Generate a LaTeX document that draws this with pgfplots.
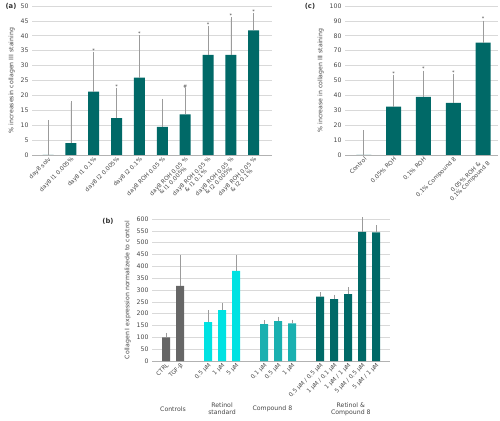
\documentclass[border=0pt]{standalone}
\usepackage{pgfplots}
\pgfplotsset{compat=1.18}
\usepackage{fontspec}
\setmainfont{DejaVu Sans}
\definecolor{tealdark}{RGB}{0,105,103}
\definecolor{cyanb}{RGB}{0,226,226}
\definecolor{cmpd}{RGB}{26,176,176}
\definecolor{grayb}{RGB}{102,102,102}
\definecolor{txtgray}{RGB}{70,70,70}
\definecolor{gridgray}{RGB}{217,217,217}
\definecolor{errgray}{RGB}{155,155,155}
\pgfplotsset{
  panel/.style={
    scale only axis, anchor=south west,
    font=\fontsize{6}{7}\selectfont,
    tick label style={font=\fontsize{6.2}{7}\selectfont, text=txtgray},
    /pgf/number format/assume math mode=true,
    ymajorgrids, grid style={gridgray, line width=0.6pt},
    axis x line*=bottom, axis y line*=left,
    y axis line style={draw=none},
    x axis line style={draw=black!30, line width=0.6pt},
    major tick length=0pt,
    ylabel style={font=\fontsize{6.2}{7}\selectfont, text=txtgray},
    xticklabel style={rotate=45, anchor=north east, align=center, inner sep=1pt, font=\fontsize{5.8}{5.9}\selectfont},
    ymin=0, xtick=data, clip=false,
  },
  barplot/.style={ybar, draw=none, fill=#1,
    error bars/y dir=plus, error bars/y explicit,
    error bars/error bar style={errgray, line width=0.6pt},
    error bars/error mark options={errgray, mark size=1.8pt, line width=0.6pt}},
  stars/.style={draw=none, mark=none, nodes near coords, point meta=explicit symbolic,
    every node near coord/.style={font=\fontsize{5}{5}\selectfont, text=txtgray, anchor=south, inner sep=1.2pt}},
}
\begin{document}
\begin{tikzpicture}
\useasboundingbox (0,0) rectangle (500pt,420pt);
% ---------------- (a)
\begin{axis}[panel, at={(32pt,265pt)}, width=240pt, height=149pt,
  ymax=50, ytick={0,5,...,50}, xmin=-0.7, xmax=9.8,
  xticklabels={day8 solv, day8 I1 0.005\%, day8 I1 0.1\%, day8 I2 0.005\%, day8 I2 0.1\%, day8 ROH 0.05 \%,
    {day8 ROH 0.05 \%\\\& I1 0.005\%}, {day8 ROH 0.05 \%\\\& I1 0.1\%}, {day8 ROH 0.05 \%\\\& I2 0.005\%}, {day8 ROH 0.05 \%\\\& I2 0.1\%}},
  ylabel={\% increasesin collagen III staining}, ylabel style={yshift=-1pt}]
\addplot[barplot=tealdark, bar width=11pt] coordinates {
  (0,0) +- (0,11) (1,4) +- (0,13.5) (2,21.3) +- (0,12.7) (3,12.4) +- (0,9.6) (4,26) +- (0,13.5)
  (5,9.4) +- (0,8.8) (6,13.6) +- (0,8.4) (7,33.6) +- (0,9.2) (8,33.6) +- (0,12) (9,41.8) +- (0,5.2)};
\addplot[stars] coordinates {(2,34) [*] (3,22) [*] (4,39.5) [*] (6,22) [\#] (7,42.8) [*] (8,45.6) [*] (9,47) [*]};
\end{axis}
% ---------------- (c)
\begin{axis}[panel, at={(345pt,265pt)}, width=153pt, height=149pt,
  ymax=100, ytick={0,10,...,100}, xmin=-0.63, xmax=4.5,
  xticklabels={Control, 0.05\% ROH, 0.1\% ROH, 0.1\% Compound 8, {0.05\% ROH \&\\0.1\% Compound 8}},
  ylabel={\% increase in collagen III staining}, ylabel style={yshift=-1pt}]
\addplot[barplot=tealdark, bar width=15pt] coordinates {
  (0,0) +- (0,15.5) (1,32.5) +- (0,20) (2,39) +- (0,16.5) (3,35) +- (0,18) (4,75.5) +- (0,13.5)};
\addplot[stars] coordinates {(1,52.5) [*] (2,55.5) [*] (3,53) [*] (4,89) [*]};
\end{axis}
% ---------------- (b)
\begin{axis}[panel, at={(152pt,59pt)}, width=238pt, height=142pt,
  ymax=600, ytick={0,50,...,600}, xmin=-1, xmax=16,
  xtick={0,1,3,4,5,7,8,9,11,12,13,14,15},
  xticklabels={CTRL, TGF-β, 0.5 µM, 1 µM, 5 µM, 0.1 µM, 0.5 µM, 1 µM,
    0.5 µM / 0.5 µM, 1 µM / 0.1 µM, 1 µM / 1 µM, 5 µM / 0.5 µM, 5 µM / 1 µM},
  ylabel={Collagen I expression normalizede to control}, ylabel style={yshift=-1pt}]
\addplot[barplot=grayb, bar width=8pt] coordinates {(0,100) +- (0,11) (1,317) +- (0,124)};
\addplot[barplot=cyanb, bar width=8pt] coordinates {(3,164) +- (0,42) (4,215) +- (0,22) (5,381) +- (0,60)};
\addplot[barplot=cmpd, bar width=8pt] coordinates {(7,156) +- (0,8) (8,168) +- (0,12) (9,159) +- (0,8)};
\addplot[barplot=tealdark, bar width=8pt] coordinates {(11,272) +- (0,11) (12,261) +- (0,11) (13,283) +- (0,21) (14,546) +- (0,54) (15,544) +- (0,23)};
\node[font=\fontsize{6.2}{7}\selectfont, text=txtgray, align=center] at (axis cs:0.5,-203) {Controls};
\node[font=\fontsize{6.2}{7}\selectfont, text=txtgray, align=center] at (axis cs:4,-203) {Retinol\\standard};
\node[font=\fontsize{6.2}{7}\selectfont, text=txtgray, align=center] at (axis cs:7.6,-203) {Compound 8};
\node[font=\fontsize{6.2}{7}\selectfont, text=txtgray, align=center] at (axis cs:13.2,-203) {Retinol \&\\Compound 8};
\end{axis}
% panel labels
\node[font=\fontsize{6.8}{7}\selectfont\bfseries, text=black!80] at (11pt,414pt) {(a)};
\node[font=\fontsize{6.8}{7}\selectfont\bfseries, text=black!80] at (310pt,414pt) {(c)};
\node[font=\fontsize{6.8}{7}\selectfont\bfseries, text=black!80] at (108pt,199pt) {(b)};
\end{tikzpicture}
\end{document}
